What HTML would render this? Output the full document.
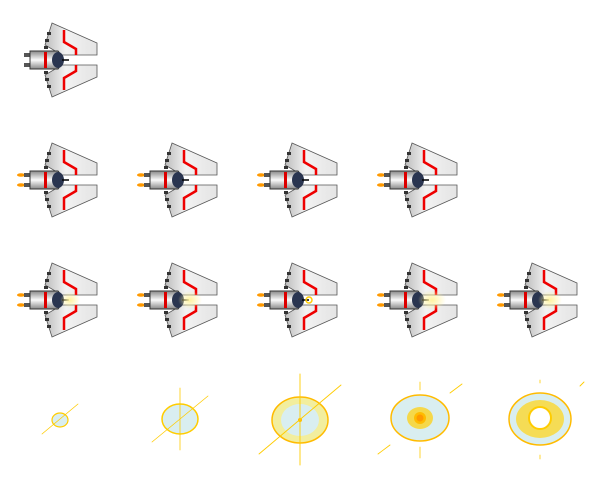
<!DOCTYPE html>
<html><head><meta charset="utf-8"><style>html,body{margin:0;background:#fff}svg{display:block}</style></head>
<body>
<svg width="600" height="480" viewBox="0 0 600 480" xmlns="http://www.w3.org/2000/svg">
<defs>
<linearGradient id="wg" x1="0" y1="0" x2="1" y2="0"><stop offset="0" stop-color="#bdbdbd"/><stop offset="0.4" stop-color="#f2f2f2"/><stop offset="1" stop-color="#e4e4e4"/></linearGradient>
<linearGradient id="bg" x1="0" y1="0" x2="0" y2="1"><stop offset="0" stop-color="#888"/><stop offset="0.5" stop-color="#fafafa"/><stop offset="1" stop-color="#888"/></linearGradient>
<radialGradient id="glow"><stop offset="0" stop-color="#fff3a0"/><stop offset="1" stop-color="#fff3a0" stop-opacity="0"/></radialGradient>
<g id="ship">
<polygon points="52,23 97,43 97,55 62,55 45,45" fill="url(#wg)" stroke="#555" stroke-width="0.8"/>
<polygon points="52,97 97,77 97,65 62,65 45,75" fill="url(#wg)" stroke="#555" stroke-width="0.8"/>
<polyline points="64,30 64,42 76,49 76,55" fill="none" stroke="#e00" stroke-width="2.5"/>
<polyline points="64,90 64,78 76,71 76,65" fill="none" stroke="#e00" stroke-width="2.5"/>
<g fill="#333"><rect x="47" y="32" width="4" height="3"/><rect x="45" y="39" width="4" height="3"/><rect x="44" y="46" width="4" height="3"/><rect x="47" y="85" width="4" height="3"/><rect x="45" y="78" width="4" height="3"/><rect x="44" y="71" width="4" height="3"/></g>
<rect x="24" y="53" width="9" height="4" fill="#555"/><rect x="24" y="63" width="9" height="4" fill="#555"/>
<path d="M30,51 H58 Q66,60 58,69 H30 Z" fill="url(#bg)" stroke="#333" stroke-width="1"/>
<rect x="44" y="52" width="3" height="16" fill="#d00"/>
<ellipse cx="58" cy="60" rx="6" ry="8" fill="#2a3550"/>
<line x1="62" y1="60" x2="69" y2="60" stroke="#000" stroke-width="1.5"/>
</g>
<g id="flame"><ellipse cx="21" cy="55" rx="4" ry="1.8" fill="#f90"/><ellipse cx="21" cy="65" rx="4" ry="1.8" fill="#f90"/></g>
</defs>
<use href="#ship" x="0" y="0"/>
<g>
<use href="#flame" x="0" y="120"/><use href="#ship" x="0" y="120"/>
<use href="#flame" x="120" y="120"/><use href="#ship" x="120" y="120"/>
<use href="#flame" x="240" y="120"/><use href="#ship" x="240" y="120"/>
<use href="#flame" x="360" y="120"/><use href="#ship" x="360" y="120"/>
</g>
<g>
<use href="#flame" x="0" y="240"/><use href="#ship" x="0" y="240"/><ellipse cx="70" cy="300" rx="10" ry="8" fill="url(#glow)"/>
<use href="#flame" x="120" y="240"/><use href="#ship" x="120" y="240"/><ellipse cx="190" cy="300" rx="12" ry="9" fill="url(#glow)"/>
<use href="#flame" x="240" y="240"/><use href="#ship" x="240" y="240"/><circle cx="309" cy="300" r="3" fill="none" stroke="#fc0" stroke-width="1.5"/>
<use href="#flame" x="360" y="240"/><use href="#ship" x="360" y="240"/><ellipse cx="432" cy="300" rx="14" ry="10" fill="url(#glow)"/>
<use href="#flame" x="480" y="240"/><use href="#ship" x="480" y="240"/><ellipse cx="550" cy="300" rx="12" ry="9" fill="url(#glow)"/>
</g>
<g stroke-linecap="round">
<ellipse cx="60" cy="420" rx="8" ry="7" fill="#d9eef0" stroke="#fc0" stroke-width="1.2"/>
<line x1="42" y1="434" x2="78" y2="404" stroke="#fc0" stroke-width="0.8"/>
<ellipse cx="180" cy="419" rx="18" ry="15" fill="#d9eef0" stroke="#fc0" stroke-width="1.5"/>
<line x1="152" y1="442" x2="208" y2="396" stroke="#fc0" stroke-width="0.8"/><line x1="180" y1="388" x2="180" y2="450" stroke="#fc0" stroke-width="0.8"/>
<ellipse cx="300" cy="420" rx="28" ry="23" fill="#f2ee9e" stroke="#fb0" stroke-width="1.5"/>
<ellipse cx="300" cy="420" rx="19" ry="16" fill="#d9eef0"/><circle cx="300" cy="420" r="2" fill="#fb0"/>
<line x1="259" y1="454" x2="341" y2="385" stroke="#fc0" stroke-width="0.9"/><line x1="300" y1="374" x2="300" y2="465" stroke="#fc0" stroke-width="0.9"/>
<ellipse cx="420" cy="418" rx="29" ry="23" fill="#d9eef0" stroke="#fb0" stroke-width="1.5"/>
<ellipse cx="420" cy="418" rx="13" ry="11" fill="#f5d84a"/><circle cx="420" cy="418" r="6" fill="#fb0"/><circle cx="420" cy="418" r="3.5" fill="#f90"/>
<line x1="378" y1="454" x2="390" y2="445" stroke="#fc0" stroke-width="0.9"/><line x1="450" y1="393" x2="462" y2="384" stroke="#fc0" stroke-width="0.9"/>
<line x1="420" y1="382" x2="420" y2="390" stroke="#fc0" stroke-width="0.8"/><line x1="420" y1="447" x2="420" y2="458" stroke="#fc0" stroke-width="0.8"/>
<ellipse cx="540" cy="419" rx="31" ry="26" fill="#d9eef0" stroke="#fb0" stroke-width="1.5"/>
<ellipse cx="540" cy="419" rx="24" ry="19" fill="#f5dc55"/>
<circle cx="540" cy="418" r="11" fill="#fff" stroke="#fc0" stroke-width="2"/>
<line x1="580" y1="386" x2="584" y2="382" stroke="#fc0" stroke-width="0.9"/><line x1="540" y1="380" x2="540" y2="383" stroke="#fc0" stroke-width="0.8"/><line x1="540" y1="455" x2="540" y2="459" stroke="#fc0" stroke-width="0.8"/>
</g>
</svg>
</body></html>
